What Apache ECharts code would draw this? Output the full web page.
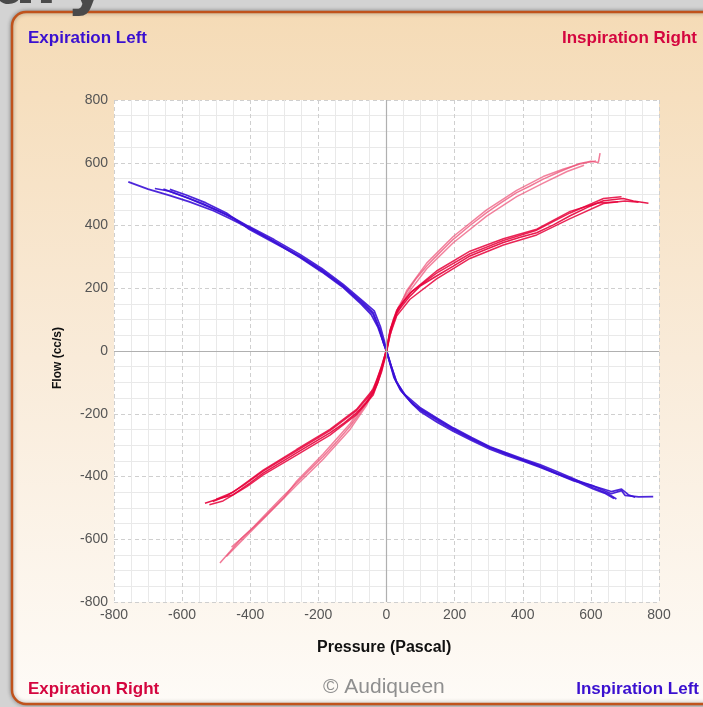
<!DOCTYPE html>
<html><head><meta charset="utf-8">
<script src="https://cdn.jsdelivr.net/npm/echarts@6/dist/echarts.min.js"></script>
<style>html,body{margin:0;padding:0;background:#d3d3d3;}#c{width:703px;height:707px;}</style>
</head><body><div id="c"></div>
<script>
// ---- data ----
var xTicks = [-800,-600,-400,-200,0,200,400,600,800];
var yTicks = [-800,-600,-400,-200,0,200,400,600,800];

// Left ear (blue): expiration left (upper-left) -> inspiration left (lower-right)
var blue1 = [[-758,539],[-700,516],[-640,497],[-580,476],[-508,447],[-460,422],[-406,393],[-330,350],[-254,303],[-190,258],[-127,207],[-70,155],[-39,122],[-20,70],[-9,26],[0,0],[10,-38],[25,-90],[40,-123],[70,-160],[98,-187],[150,-222],[196,-251],[250,-281],[304,-309],[350,-328],[402,-347],[450,-366],[500,-389],[550,-410],[607,-430],[660,-455],[690,-445],[700,-460],[740,-465],[783,-464]];
var blue2 = [[-680,518],[-640,510],[-580,486],[-508,453],[-450,425],[-406,398],[-330,355],[-254,308],[-190,263],[-127,212],[-70,160],[-36,128],[-18,78],[-6,30],[2,-5],[14,-48],[30,-100],[55,-140],[98,-180],[150,-215],[196,-245],[250,-276],[304,-305],[350,-324],[402,-344],[450,-362],[500,-384],[550,-407],[607,-436],[650,-455],[675,-472]];
var blue3 = [[-655,516],[-600,495],[-540,470],[-480,440],[-406,396],[-330,348],[-254,298],[-190,252],[-127,202],[-75,150],[-45,116],[-25,75],[-10,30],[0,-2],[8,-30],[22,-85],[45,-130],[75,-168],[98,-192],[150,-228],[196,-256],[250,-285],[304,-313],[350,-332],[402,-351],[450,-370],[500,-392],[550,-414],[600,-428],[660,-448],[690,-440],[710,-458],[730,-466]];
var blue4 = [[-636,515],[-590,498],[-530,472],[-470,440],[-406,390],[-330,345],[-254,300],[-190,255],[-127,205],[-72,152],[-40,118],[-22,72],[-8,24],[1,-4],[12,-42],[28,-95],[50,-135],[80,-172],[98,-184],[150,-218],[196,-248],[250,-279],[304,-307],[350,-326],[402,-349],[450,-368],[500,-391],[550,-412],[607,-440],[640,-453],[668,-470]];

// Right ear (red), steep trial set (lighter)
var pink1 = [[-489,-676],[-460,-640],[-430,-602],[-390,-560],[-352,-517],[-310,-470],[-264,-421],[-225,-378],[-186,-336],[-145,-288],[-107,-240],[-80,-200],[-58,-165],[-40,-130],[-29,-102],[-15,-55],[-5,-15],[0,10],[10,60],[20,101],[35,140],[59,186],[85,228],[118,271],[155,312],[196,356],[245,400],[294,441],[340,475],[382,505],[420,525],[460,548],[510,572],[568,598],[600,605],[622,601],[627,631]];
var pink2 = [[-470,-655],[-430,-610],[-380,-555],[-330,-500],[-264,-428],[-186,-345],[-107,-250],[-58,-172],[-29,-105],[-10,-40],[0,0],[15,70],[30,115],[59,178],[118,262],[196,345],[294,430],[382,492],[460,535],[530,572],[580,592]];
var pink3 = [[-455,-625],[-400,-572],[-352,-523],[-300,-466],[-264,-415],[-186,-328],[-107,-232],[-58,-158],[-29,-96],[-8,-25],[0,5],[20,90],[59,192],[118,280],[196,365],[294,450],[382,512],[460,556],[520,580],[568,596],[615,606]];

// Right ear (red), flatter trial set (darker)
var red1 = [[-533,-485],[-490,-470],[-450,-458],[-400,-420],[-362,-389],[-310,-355],[-264,-325],[-215,-293],[-166,-261],[-125,-230],[-88,-197],[-60,-165],[-39,-134],[-25,-100],[-14,-59],[-5,-20],[0,0],[10,58],[20,92],[30,122],[50,150],[69,175],[100,208],[147,239],[195,270],[245,303],[295,325],[343,346],[390,362],[441,377],[490,402],[539,431],[590,458],[637,479],[695,486],[725,478],[769,471]];
var red2 = [[-520,-490],[-480,-478],[-455,-462],[-410,-432],[-362,-395],[-264,-332],[-166,-268],[-88,-203],[-39,-140],[-14,-65],[0,-5],[10,50],[30,112],[69,165],[147,230],[245,295],[343,338],[441,370],[539,422],[637,470],[700,478],[740,474]];
var red3 = [[-510,-480],[-470,-462],[-420,-428],[-362,-383],[-264,-318],[-166,-254],[-88,-190],[-39,-128],[-14,-52],[0,2],[10,65],[30,130],[69,185],[147,248],[245,310],[343,352],[441,385],[539,440],[637,486],[690,492]];
var red4 = [[-500,-472],[-450,-450],[-362,-380],[-264,-314],[-166,-250],[-88,-186],[-39,-122],[-14,-48],[0,4],[12,70],[35,138],[75,190],[147,255],[245,318],[343,358],[441,388],[539,445],[620,472],[680,476]];

// ---- chart ----
var chart = echarts.init(document.getElementById('c'), null, {renderer:'canvas'});
var FONT = '"Liberation Sans",Arial,sans-serif';
function line(name, data, color, opacity, w){
  return {name:name, type:'line', data:data, showSymbol:false, symbol:'none', smooth:false, silent:true,
    lineStyle:{color:color, width:w||1.5, opacity:opacity}, z:3};
}
var series = [
  line('b1', blue1, '#3a0fd6', 0.9, 1.7), line('b2', blue2, '#3a0fd6', 0.9, 1.7),
  line('b3', blue3, '#3a0fd6', 0.9, 1.7), line('b4', blue4, '#3a0fd6', 0.9, 1.7),
  line('p1', pink1, '#ec4d74', 0.75), line('p2', pink2, '#ec4d74', 0.7), line('p3', pink3, '#ec4d74', 0.7),
  line('r1', red1, '#e6003a', 0.9), line('r2', red2, '#e6003a', 0.85),
  line('r3', red3, '#e6003a', 0.85), line('r4', red4, '#e6003a', 0.85)
];
series.push({type:'line', data:[], silent:true, z:2,
  markLine:{silent:true, symbol:'none', label:{show:false},
    lineStyle:{color:'#b0b0b0', type:'solid', width:1.2},
    data:[{xAxis:0},{yAxis:0}]}});

var option = {
  animation:false,
  backgroundColor:'#d3d3d3',
  graphic:[
    {type:'text', left:-6, top:-44, z:0, style:{text:'ary', fill:'#4a4a4a', font:'bold 62px "DejaVu Sans",sans-serif'}},
    {type:'rect', z:-10, shape:{x:12, y:12, width:740, height:692, r:14},
      style:{fill:new echarts.graphic.LinearGradient(0,0,0,1,[{offset:0,color:'#f5dbb6'},{offset:0.5,color:'#f9ebd9'},{offset:1,color:'#fefbf7'}]),
      stroke:'#c0531c', lineWidth:2.5, shadowBlur:4, shadowColor:'rgba(0,0,0,0.35)'}},
    {type:'rect', z:-9, shape:{x:114, y:100, width:545, height:502}, style:{fill:'#ffffff'}},
    {type:'text', z:10, x:28, y:30, style:{text:'Expiration Left', fill:'#3a10d0', font:'bold 17px '+FONT}},
    {type:'text', z:10, right:6, top:30, style:{text:'Inspiration Right', fill:'#d4063f', font:'bold 17px '+FONT}},
    {type:'text', z:10, x:28, y:681, style:{text:'Expiration Right', fill:'#d4063f', font:'bold 17px '+FONT}},
    {type:'text', z:10, right:4, top:681, style:{text:'Inspiration Left', fill:'#3a10d0', font:'bold 17px '+FONT}},
    {type:'text', z:10, x:323, y:677, style:{text:'© Audiqueen', fill:'#8f8f8f', font:'21px "Liberation Sans",Arial,sans-serif'}},
    {type:'text', z:10, x:317, y:640, style:{text:'Pressure (Pascal)', fill:'#111', font:'bold 16px '+FONT}},
    {type:'text', z:10, x:52, y:389, rotation:Math.PI/2, style:{text:'Flow (cc/s)', fill:'#111', font:'bold 12px '+FONT}}
  ],
  grid:{left:114, right:44, top:100, bottom:105, containLabel:false, show:false},
  xAxis:{type:'value', min:-800, max:800, interval:200,
    axisLine:{show:false}, axisTick:{show:false},
    axisLabel:{color:'#555', fontFamily:FONT, fontSize:14, margin:6,
      formatter:function(v){return xTicks.indexOf(v)>=0 ? String(v) : '';}},
    splitLine:{show:true, lineStyle:{color:'#cfcfcf', type:[4,3], width:1}},
    minorTick:{show:false, splitNumber:4},
    minorSplitLine:{show:true, lineStyle:{color:'#e9e9e9', width:1}}},
  yAxis:{type:'value', min:-800, max:800, interval:200,
    axisLine:{show:false}, axisTick:{show:false},
    axisLabel:{color:'#555', fontFamily:FONT, fontSize:14, margin:6,
      formatter:function(v){return yTicks.indexOf(v)>=0 ? String(v) : '';}},
    splitLine:{show:true, lineStyle:{color:'#cfcfcf', type:[4,3], width:1}},
    minorTick:{show:false, splitNumber:4},
    minorSplitLine:{show:true, lineStyle:{color:'#e9e9e9', width:1}}},
  series:series
};
chart.setOption(option);
</script>
</body></html>
